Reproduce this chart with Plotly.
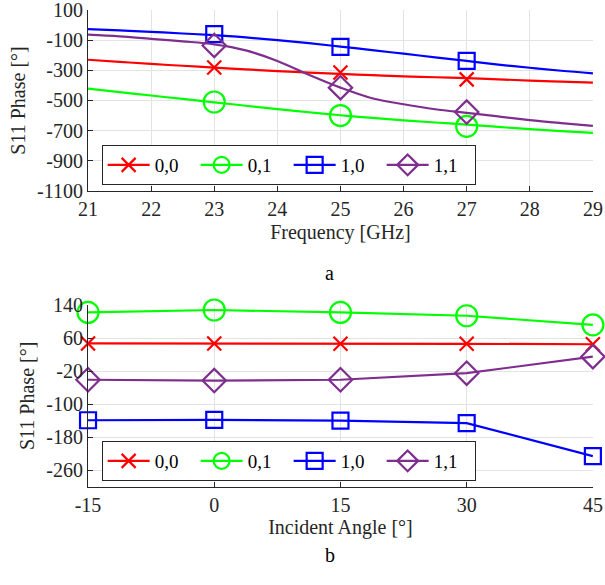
import plotly.graph_objects as go

FONT = "Liberation Serif"
AX = "#262626"
GRID = "#e3e3e3"
FS = 20

# ---- top chart (a) data ----
freq_line = [21, 21.5, 22, 22.5, 23, 23.5, 24, 24.5, 25, 25.5, 26, 26.5, 27, 27.5, 28, 28.5, 29]
red_line = [-230, -244, -258, -270, -282, -294, -305, -315, -324, -332, -340, -346, -352, -360, -368, -375, -382]
green_line = [-422, -445, -467, -490, -512, -535, -557, -578, -598, -615, -632, -646, -660, -675, -690, -703, -715]
blue_line = [-27, -36, -45, -56, -67, -82, -100, -120, -143, -166, -190, -214, -238, -262, -283, -303, -320]
purple_line = [-64, -75, -92, -108, -128, -168, -238, -330, -415, -485, -525, -558, -582, -606, -630, -650, -668]

freq_mark = [23, 25, 27]
red_mark = [-282, -315, -360]
green_mark = [-510, -600, -671]
blue_mark = [-60, -145, -238]
purple_mark = [-135, -415, -577]

top_yticks = [100, -100, -300, -500, -700, -900, -1100]
top_xticks = [21, 22, 23, 24, 25, 26, 27, 28, 29]

# ---- bottom chart (b) data ----
angles = [-15, 0, 15, 30, 45]
red_b = [47, 47, 46, 46, 45]
green_b = [122, 128, 122, 114, 92]
blue_b = [-139, -138, -140, -146, -226]
purple_b = [-41, -43, -41, -25, 15]

bot_yticks = [140, 60, -20, -100, -180, -260]
bot_xticks = [-15, 0, 15, 30, 45]

names = ["0,0", "0,1", "1,0", "1,1"]
colors = ["#ff0000", "#00ff00", "#0000ff", "#7e2f8e"]
symbols = ["x-thin", "circle-open", "square-open", "diamond-open"]
sizes = [14, 21, 16, 18]

fig = go.Figure()
LW = 2.2

top_lines = [red_line, green_line, blue_line, purple_line]
top_marks = [red_mark, green_mark, blue_mark, purple_mark]
bot_vals = [red_b, green_b, blue_b, purple_b]

for i in range(4):
    mk = dict(symbol=symbols[i], size=sizes[i], color=colors[i],
              line=dict(color=colors[i], width=LW))
    fig.add_trace(go.Scatter(x=freq_line, y=top_lines[i], mode="lines",
                             line=dict(color=colors[i], width=LW, shape="spline"),
                             xaxis="x", yaxis="y", showlegend=False, hoverinfo="skip"))
    fig.add_trace(go.Scatter(x=freq_mark, y=top_marks[i], mode="markers", marker=mk,
                             xaxis="x", yaxis="y", showlegend=False, cliponaxis=False))
    fig.add_trace(go.Scatter(x=[None], y=[None], mode="lines+markers", name=names[i],
                             line=dict(color=colors[i], width=LW), marker=mk,
                             xaxis="x", yaxis="y", legend="legend"))
    fig.add_trace(go.Scatter(x=angles, y=bot_vals[i], mode="lines+markers", name=names[i],
                             line=dict(color=colors[i], width=LW), marker=mk,
                             xaxis="x2", yaxis="y2", legend="legend2", cliponaxis=False))

def ax(**kw):
    d = dict(showgrid=True, gridcolor=GRID, gridwidth=1, zeroline=False,
             showline=True, linecolor=AX, linewidth=1, mirror=False,
             ticks="inside", ticklen=5, tickcolor=AX, tickwidth=1, automargin=False,
             ticklabeloverflow="allow",
             tickfont=dict(family=FONT, size=FS, color=AX),
             title_font=dict(family=FONT, size=FS, color=AX))
    d.update(kw)
    return d

LEG = dict(xanchor="left", yanchor="top", orientation="h",
           bordercolor=AX, borderwidth=1, bgcolor="white",
           font=dict(family=FONT, size=19, color="#000000"),
           itemwidth=42, entrywidth=36)

fig.update_layout(
    width=605, height=585,
    margin=dict(l=0, r=0, t=0, b=0),
    paper_bgcolor="white", plot_bgcolor="white",
    font=dict(family=FONT, color=AX, size=FS),
    xaxis=ax(domain=[0.1455, 0.980], range=[21, 29], anchor="y",
             tickvals=top_xticks, ticktext=[str(v) for v in top_xticks],
             title=dict(text="Frequency [GHz]", standoff=5)),
    yaxis=ax(domain=[0.6735, 0.983], range=[-1100, 100], anchor="x",
             tickvals=top_yticks, ticktext=[str(v) for v in top_yticks],
             title=dict(text="S11 Phase [°]", standoff=6)),
    xaxis2=ax(domain=[0.1455, 0.980], range=[-15, 45], anchor="y2",
              tickvals=bot_xticks, ticktext=[str(v) for v in bot_xticks],
              title=dict(text="Incident Angle [°]", standoff=5)),
    yaxis2=ax(domain=[0.168, 0.4786], range=[-300, 140], anchor="x2",
              tickvals=bot_yticks, ticktext=[str(v) for v in bot_yticks],
              title=dict(text="S11 Phase [°]", standoff=6)),
    legend=dict(x=0.168, y=1 - 145 / 585, **LEG),
    legend2=dict(x=0.168, y=1 - 441 / 585, **LEG),
    annotations=[
        dict(text="a", x=329 / 605, y=1 - 273 / 585, xref="paper", yref="paper",
             showarrow=False, font=dict(family=FONT, size=FS, color="#000000")),
        dict(text="b", x=330 / 605, y=1 - 568 / 585, xref="paper", yref="paper",
             showarrow=False, font=dict(family=FONT, size=FS, color="#000000")),
    ],
)

fig.write_html("out.html", config={"displayModeBar": False},
               post_script="document.body.style.margin='0';")
